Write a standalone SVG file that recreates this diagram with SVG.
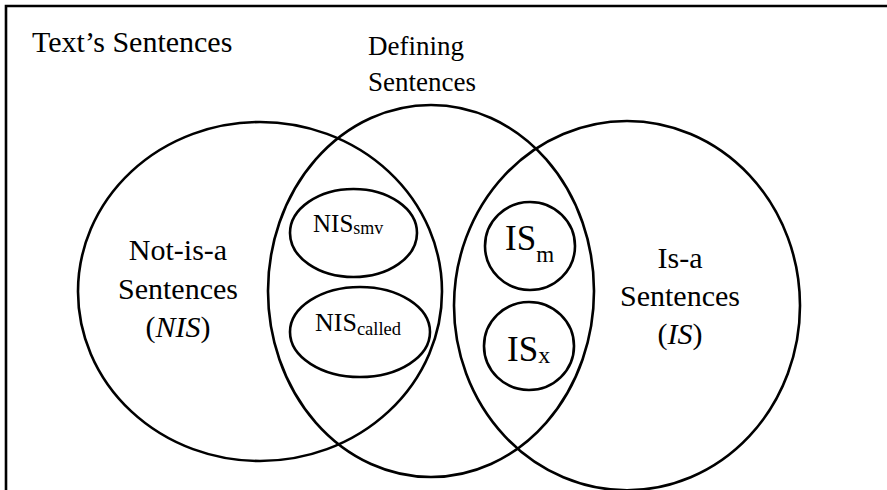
<svg xmlns="http://www.w3.org/2000/svg" width="887" height="490" viewBox="0 0 887 490">
<style>
.s{fill:none;stroke:#000;stroke-width:2.6}
text{font-family:"Liberation Serif","Times New Roman",serif;fill:#000}
.c{text-anchor:middle;font-size:30px}
</style>
<rect width="887" height="490" fill="#fff"/>
<g id="texts-sentences">
<path class="s" d="M6,490 V6 H887"/>
<text x="32" y="52" font-size="30">Text’s Sentences</text>
</g>
<g id="not-is-a">
<ellipse class="s" cx="260" cy="291.5" rx="182" ry="169.5"/>
<text class="c" x="178" y="260">Not-is-a</text>
<text class="c" x="178" y="299">Sentences</text>
<text class="c" x="178" y="337">(<tspan font-style="italic">NIS</tspan>)</text>
</g>
<g id="defining">
<ellipse class="s" cx="431" cy="291" rx="163" ry="186"/>
<text x="368" y="55" font-size="27">Defining</text>
<text x="368" y="91" font-size="27">Sentences</text>
</g>
<g id="is-a">
<ellipse class="s" cx="627" cy="305.6" rx="173" ry="184.6"/>
<text class="c" x="680" y="268">Is-a</text>
<text class="c" x="680" y="306">Sentences</text>
<text class="c" x="680" y="344">(<tspan font-style="italic">IS</tspan>)</text>
</g>
<g id="nis-smv">
<ellipse class="s" cx="353.5" cy="233" rx="63.5" ry="44"/>
<text x="313" y="232" font-size="25">NIS<tspan font-size="18" dy="2">smv</tspan></text>
</g>
<g id="nis-called">
<ellipse class="s" cx="360" cy="332" rx="70" ry="45"/>
<text x="315" y="331" font-size="26">NIS<tspan font-size="18.5" dy="4">called</tspan></text>
</g>
<g id="is-m">
<ellipse class="s" cx="530" cy="246" rx="45" ry="44"/>
<text x="505" y="250" font-size="35">IS<tspan font-size="23" dy="12">m</tspan></text>
</g>
<g id="is-x">
<ellipse class="s" cx="529" cy="346" rx="45" ry="44"/>
<text x="507" y="361" font-size="35">IS<tspan font-size="24" dy="2">x</tspan></text>
</g>
</svg>
